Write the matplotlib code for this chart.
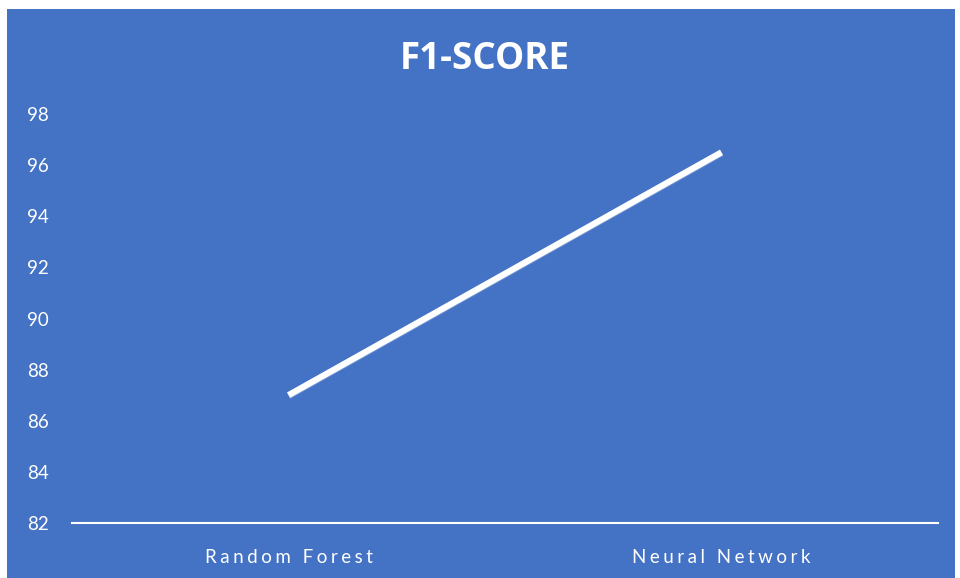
import matplotlib
matplotlib.use("Agg")
import matplotlib.pyplot as plt
import matplotlib.transforms as mtransforms
from matplotlib.patches import Rectangle

# F1-score of each model
models = ["Random Forest", "Neural Network"]
f1_scores = [87.0, 96.5]
y_ticks = [82, 84, 86, 88, 90, 92, 94, 96, 98]

BLUE = "#4472C4"
WHITE = "#FFFFFF"
GAP = "\u2009\u200a"

plt.rcParams["font.family"] = ["Lato", "DejaVu Sans"]


def tracked(label):
    """Widely letter-spaced category label."""
    return (GAP + " " + GAP).join(GAP.join(word) for word in label.split(" "))


fig = plt.figure(figsize=(9.6, 5.78), dpi=100, facecolor=WHITE)

# blue chart area
fig.patches.append(Rectangle((7 / 960, 0), 948 / 960, 569 / 578,
                             transform=fig.transFigure, facecolor=BLUE,
                             edgecolor="none", zorder=-10))

ax = fig.add_axes([72 / 960, 55 / 578, 866 / 960, 409 / 578])
ax.set_facecolor("none")
ax.set_zorder(5)

x = [0.5, 1.5]
# faint shadow under the line
shadow = mtransforms.offset_copy(ax.transData, fig=fig, x=1.5, y=-3, units="dots")
ax.plot(x, f1_scores, color="#6E93D6", lw=1.0, transform=shadow,
        solid_capstyle="butt", zorder=2)
ax.plot(x, f1_scores, color=WHITE, lw=4.5, solid_capstyle="butt", zorder=3)

ax.set_xlim(0, 2)
ax.set_ylim(82, 98)
ax.set_yticks(y_ticks)
ax.set_yticklabels([str(v) for v in y_ticks], color=WHITE, fontsize=13.5)
ax.set_xticks(x)
ax.set_xticklabels([tracked(m) for m in models], color=WHITE, fontsize=13.5)

ax.tick_params(axis="both", length=0)
ax.tick_params(axis="y", pad=17)
ax.tick_params(axis="x", pad=18.5)
for side in ["left", "right", "top"]:
    ax.spines[side].set_visible(False)
ax.spines["bottom"].set_color(WHITE)
ax.spines["bottom"].set_linewidth(1.5)

fig.text(485 / 960, 1 - 59 / 578, "F1-SCORE", color=WHITE, fontsize=26.5,
         fontweight="bold", ha="center", va="center",
         family=["Open Sans", "DejaVu Sans"])

fig.savefig("out.png", dpi=100, facecolor=WHITE)
